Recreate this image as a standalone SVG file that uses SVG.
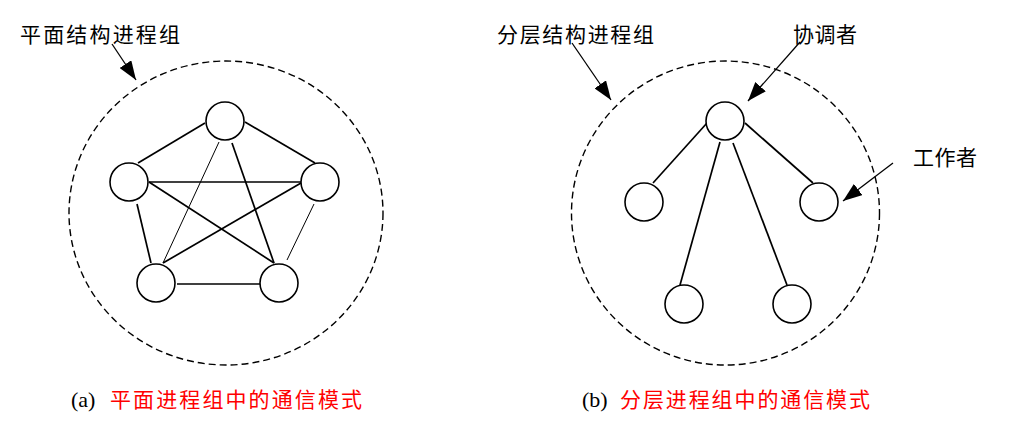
<svg xmlns="http://www.w3.org/2000/svg" width="1011" height="428" viewBox="0 0 1011 428">
<style>
.bg{fill:#fff}
.group{fill:none;stroke:#000;stroke-width:1.4;stroke-dasharray:7 4}
.node{fill:#fff;stroke:#000;stroke-width:1.6}
.e{stroke:#000;stroke-width:1.7;fill:none}
.t{stroke:#000;stroke-width:1;fill:none}
.ptr{stroke:#000;stroke-width:1.3;fill:none;marker-end:url(#ah)}
.lbl{font-family:"Noto Sans CJK SC","Liberation Sans",sans-serif;font-size:21px;fill:#000}
.cap{font-family:"Noto Sans CJK SC","Liberation Sans",sans-serif;font-size:21px;fill:#ff0000}
.capl{font-family:"Liberation Serif",serif;font-size:22px;fill:#000}
</style>
<defs>
<marker id="ah" markerUnits="userSpaceOnUse" markerWidth="20" markerHeight="14" refX="19" refY="7" orient="auto">
<path d="M0,0 L19,7 L0,14 Z" fill="#000"/>
</marker>
</defs>
<rect class="bg" x="0" y="0" width="1011" height="428"/>

<g id="panel-a">
<ellipse id="group-a" class="group" cx="226" cy="213" rx="157" ry="152"/>
<g id="connectors-a">
<line class="e" x1="205" y1="123" x2="138" y2="163"/>
<line class="e" x1="245" y1="122" x2="315" y2="163"/>
<line class="e" x1="149" y1="182" x2="301" y2="182"/>
<line class="e" x1="149" y1="182" x2="274" y2="263"/>
<line class="e" x1="301" y1="183" x2="163" y2="263"/>
<line class="t" x1="219" y1="142" x2="163" y2="263"/>
<line class="e" x1="232" y1="143" x2="274" y2="263"/>
<line class="e" x1="137" y1="204" x2="151" y2="263"/>
<line class="t" x1="314" y1="204" x2="287" y2="260"/>
<line class="e" x1="177" y1="284" x2="260" y2="284"/>
<line class="ptr" x1="112" y1="44" x2="136" y2="80"/>
</g>
<g id="a-n1"><circle class="node" cx="225" cy="121" r="19"/></g>
<g id="a-n2"><circle class="node" cx="129" cy="182" r="19"/></g>
<g id="a-n3"><circle class="node" cx="320" cy="182" r="19"/></g>
<g id="a-n4"><circle class="node" cx="156" cy="283" r="19"/></g>
<g id="a-n5"><circle class="node" cx="279" cy="283" r="19"/></g>
<text class="lbl" x="20" y="42" textLength="160" lengthAdjust="spacing">平面结构进程组</text>
<text class="capl" x="71" y="407">(a)</text>
<text class="cap" x="110" y="407" textLength="252" lengthAdjust="spacing">平面进程组中的通信模式</text>
</g>

<g id="panel-b">
<ellipse id="group-b" class="group" cx="725.5" cy="213" rx="154" ry="152"/>
<g id="connectors-b">
<line class="e" x1="707" y1="123" x2="653" y2="183"/>
<line class="e" x1="745" y1="123" x2="813" y2="183"/>
<line class="e" x1="720" y1="142" x2="680" y2="285"/>
<line class="e" x1="733" y1="143" x2="787" y2="285"/>
<line class="ptr" x1="572" y1="43" x2="611" y2="100"/>
<line class="ptr" x1="800" y1="42" x2="748" y2="101"/>
<line class="ptr" x1="893" y1="163" x2="843" y2="201"/>
</g>
<g id="b-coord"><circle class="node" cx="725" cy="121" r="19"/></g>
<g id="b-w1"><circle class="node" cx="644" cy="202" r="19"/></g>
<g id="b-w2"><circle class="node" cx="819" cy="202" r="19"/></g>
<g id="b-w3"><circle class="node" cx="684" cy="304" r="19"/></g>
<g id="b-w4"><circle class="node" cx="792" cy="304" r="19"/></g>
<text class="lbl" x="497" y="42" textLength="157" lengthAdjust="spacing">分层结构进程组</text>
<text class="lbl" x="793" y="42" textLength="64" lengthAdjust="spacing">协调者</text>
<text class="lbl" x="913" y="165" textLength="64" lengthAdjust="spacing">工作者</text>
<text class="capl" x="582" y="407">(b)</text>
<text class="cap" x="620" y="407" textLength="250" lengthAdjust="spacing">分层进程组中的通信模式</text>
</g>
</svg>
